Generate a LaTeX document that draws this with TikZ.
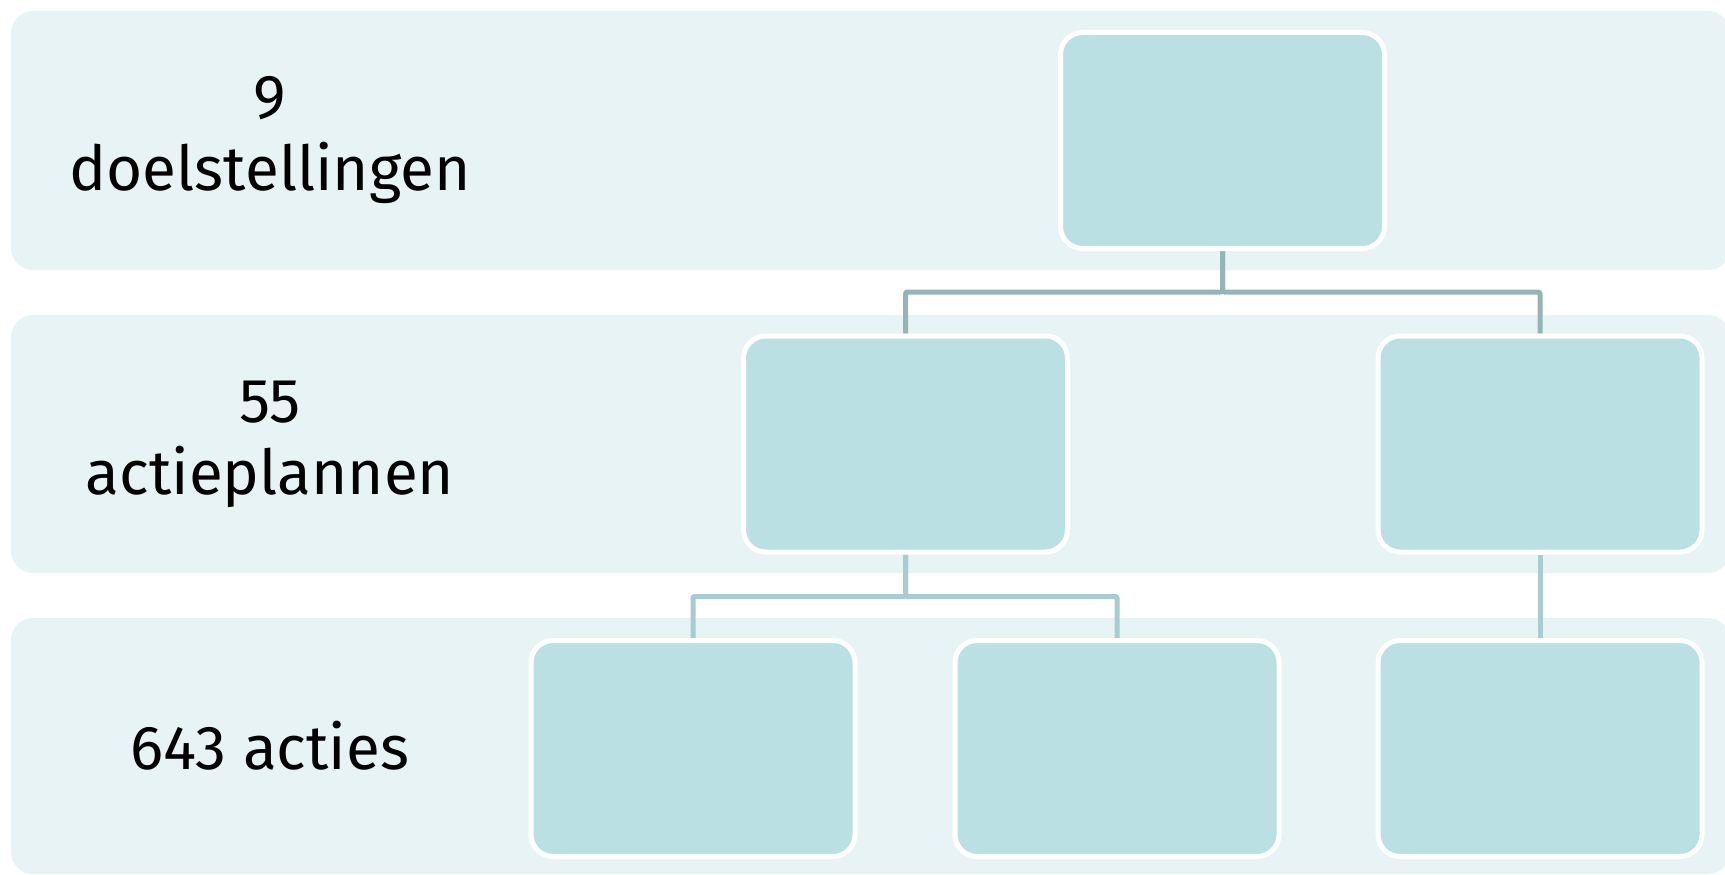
\documentclass[tikz,border=0pt]{standalone}
\usepackage{fontspec}
\setmainfont{Fira Sans}
\pgfdeclarelayer{bg}
\pgfdeclarelayer{mid}
\pgfsetlayers{bg,mid,main}
\definecolor{bandc}{HTML}{E7F3F4}
\definecolor{boxc}{HTML}{BBE0E3}
\definecolor{linetop}{HTML}{94B4B8}
\definecolor{linelow}{HTML}{A8CCCF}
\begin{document}
\begin{tikzpicture}[x=1pt,y=-1pt,
  band/.style={fill=bandc, draw=none, rounded corners=22pt},
  orgbox/.style={rectangle, fill=boxc, draw=white, line width=5pt, rounded corners=22pt,
    minimum width=324pt, minimum height=216pt, inner sep=0pt},
  lbl/.style={align=center, font=\fontsize{62}{72}\selectfont, inner sep=0pt},
  conn/.style={line width=5pt, rounded corners=2pt}]
\useasboundingbox (0,0) rectangle (1725,875);
% bands
\begin{pgfonlayer}{bg}
\fill[white] (0,0) rectangle (1725,875);
\fill[band] (11,11) rectangle (1730,270);
\fill[band] (11,315) rectangle (1730,573);
\fill[band] (11,618) rectangle (1730,874);
\end{pgfonlayer}
% labels
\node[lbl] (l1) at (270,140) {9\\doelstellingen};
\node[lbl] (l2) at (270,444) {55\\actieplannen};
\node[lbl] (l3) at (270,746) {643 acties};
% boxes
\node[orgbox] (t)  at (1222.5,140.5) {};
\node[orgbox] (ml) at (905.5,444) {};
\node[orgbox] (mr) at (1540,444) {};
\node[orgbox] (b1) at (693,748.5) {};
\node[orgbox] (b2) at (1117,748.5) {};
\node[orgbox] (b3) at (1540,748.5) {};
% connectors
\begin{pgfonlayer}{mid}
\draw[conn, draw=linetop] (t.south) -- ++(0,41) -| (ml.north);
\draw[conn, draw=linetop] (t.south) -- ++(0,41) -| (mr.north);
\draw[conn, draw=linelow] (ml.south) -- ++(0,42) -| (b1.north);
\draw[conn, draw=linelow] (ml.south) -- ++(0,42) -| (b2.north);
\draw[conn, draw=linelow] (mr.south) -- (b3.north);
\end{pgfonlayer}
\end{tikzpicture}
\end{document}
